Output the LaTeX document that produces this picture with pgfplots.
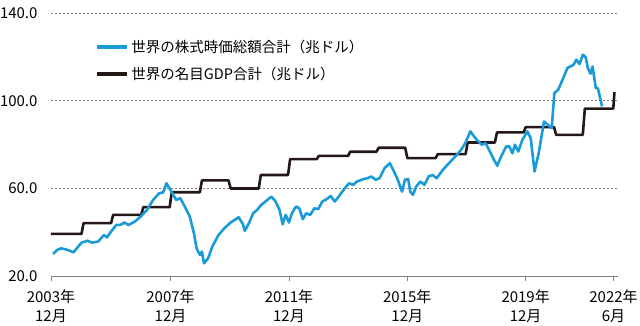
\documentclass[border=0pt]{standalone}
\usepackage{fontspec}
\setmainfont{Noto Sans CJK JP}
\usepackage{pgfplots}
\pgfplotsset{compat=1.18}
\definecolor{stockblue}{HTML}{1A9BD7}
\definecolor{gdpblack}{HTML}{231815}
\definecolor{axisgray}{HTML}{808080}
\begin{document}
\begin{tikzpicture}
\useasboundingbox (0,0) rectangle (640pt,326pt);
\begin{axis}[
  at={(51pt,50pt)}, anchor=south west,
  scale only axis, width=567pt, height=263pt,
  xmin=2003.92, xmax=2023.08, ymin=20, ymax=140,
  axis x line*=bottom, axis y line*=left,
  y axis line style={draw=none},
  x axis line style={draw=axisgray, line width=0.8pt},
  ytick={20,60,100,140},
  ytick style={draw=none},
  yticklabel={\pgfmathprintnumber[fixed,fixed zerofill,precision=1]{\tick}},
  yticklabel style={font=\fontsize{15}{18}\selectfont, xshift=-5pt},
  xtick={2003.92,2007.96,2011.96,2015.96,2019.96,2022.93},
  xticklabels={{2003年\\12月},{2007年\\12月},{2011年\\12月},{2015年\\12月},{2019年\\12月},{2022年\\6月}},
  xticklabel style={align=center, font=\fontsize{15}{19}\selectfont, yshift=-5pt},
  xtick style={draw=axisgray, line width=0.8pt},
  tick align=outside, major tick length=5pt,
  ymajorgrids, grid style={draw=axisgray, line width=0.7pt, dash pattern=on 1.8pt off 2.2pt},
  /pgf/number format/assume math mode=true,
  clip=false,
  reverse legend,
  legend cell align=left,
  legend image code/.code={\draw[#1, line width=4pt] (0pt,0pt) -- (30pt,0pt);},
  legend style={draw=none, fill=none, at={(axis description cs:0.077,0.907)}, anchor=north west,
    inner sep=0pt, row sep=8pt, column sep=0pt, font=\fontsize{14.5}{17}\selectfont,
    nodes={inner sep=2.5pt}},
]
\addplot[gdpblack, line width=2.6pt, line join=round] coordinates {
(2003.92,39.2)(2004.95,39.2)(2005.02,44.1)(2005.95,44.1)(2006.02,47.9)(2006.97,47.9)(2007.04,51.4)
(2007.93,51.4)(2008.0,58.2)(2008.95,58.2)(2009.02,63.6)(2009.92,63.6)(2009.99,59.9)(2010.94,59.9)(2011.01,66.1)
(2011.93,66.1)(2012.0,73.3)(2012.9,73.3)(2012.97,74.8)(2013.96,74.8)(2014.03,76.7)(2014.92,76.7)(2014.99,78.5)
(2015.89,78.5)(2015.96,73.8)(2016.92,73.8)(2016.99,75.6)(2017.93,75.6)(2018.0,80.9)(2018.92,80.9)(2018.99,85.5)
(2019.89,85.5)(2019.96,87.9)(2020.92,87.9)(2020.99,84.4)(2021.89,84.4)(2021.96,96.4)(2022.92,96.4)(2022.96,103.9)
};
\addlegendentry{世界の名目GDP合計（兆ドル）}
\addplot[stockblue, line width=2.6pt, line join=round] coordinates {
(2003.99,30.1)(2004.13,31.9)(2004.26,32.6)(2004.40,32.2)(2004.54,31.6)(2004.68,30.8)(2004.82,33.1)(2004.95,35.2)
(2005.16,36.1)(2005.30,35.2)(2005.51,35.7)(2005.71,38.7)(2005.81,37.6)(2005.99,41.0)(2006.13,43.3)(2006.26,43.3)
(2006.40,44.4)(2006.54,43.3)(2006.75,44.8)(2006.95,47.1)(2007.16,50.1)(2007.37,54.7)(2007.58,57.8)(2007.71,58.1)
(2007.82,62.3)(2007.99,58.5)(2008.15,54.7)(2008.29,55.5)(2008.47,50.9)(2008.61,47.1)(2008.75,39.5)(2008.84,32.6)
(2008.95,29.6)(2009.02,31.1)(2009.09,25.8)(2009.23,28.1)(2009.37,33.4)(2009.58,38.7)(2009.78,41.8)(2009.99,44.4)
(2010.13,45.6)(2010.26,46.8)(2010.40,43.8)(2010.47,40.6)(2010.61,44.1)(2010.75,48.6)(2010.89,50.2)(2011.02,52.4)
(2011.23,54.7)(2011.37,56.2)(2011.51,54.0)(2011.64,50.2)(2011.75,43.6)(2011.85,47.9)(2011.96,44.4)(2012.06,48.6)
(2012.20,51.7)(2012.31,50.9)(2012.43,45.9)(2012.54,48.6)(2012.68,47.9)(2012.82,50.9)(2012.95,50.5)(2013.09,54.0)
(2013.23,55.0)(2013.37,56.5)(2013.51,54.0)(2013.64,56.2)(2013.85,60.1)(2013.99,62.3)(2014.13,61.6)(2014.26,63.1)
(2014.47,64.2)(2014.61,64.6)(2014.75,65.4)(2014.89,63.9)(2015.02,64.6)(2015.19,69.2)(2015.37,71.5)(2015.51,67.7)
(2015.64,63.9)(2015.78,58.5)(2015.88,63.9)(2015.99,64.2)(2016.06,58.5)(2016.15,57.0)(2016.26,60.8)(2016.40,63.1)
(2016.54,61.6)(2016.68,65.4)(2016.82,66.1)(2016.95,64.6)(2017.16,68.4)(2017.37,71.5)(2017.58,74.5)(2017.78,77.6)
(2017.92,80.6)(2018.09,86.0)(2018.26,82.9)(2018.47,79.9)(2018.61,80.6)(2018.75,76.8)(2018.89,73.0)(2019.00,70.3)
(2019.13,74.5)(2019.30,79.1)(2019.41,79.1)(2019.51,76.0)(2019.60,79.9)(2019.71,76.8)(2019.85,82.2)(2020.02,86.0)
(2020.13,82.9)(2020.26,67.7)(2020.40,76.0)(2020.58,90.5)(2020.75,88.5)(2020.84,87.5)(2020.93,103.5)(2021.06,105.0)
(2021.23,110.3)(2021.37,114.9)(2021.58,116.4)(2021.67,118.7)(2021.78,116.7)(2021.89,121.0)(2021.99,119.7)(2022.06,114.9)
(2022.15,112.3)(2022.22,115.6)(2022.33,105.7)(2022.40,105.7)(2022.54,97.4)
};
\addlegendentry{世界の株式時価総額合計（兆ドル）}
\end{axis}
\end{tikzpicture}
\end{document}
